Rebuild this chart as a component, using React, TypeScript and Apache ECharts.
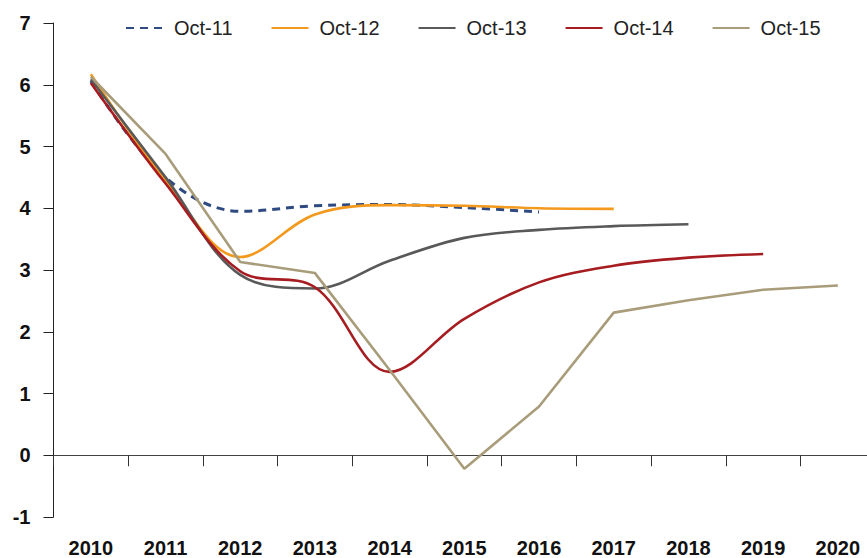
import React, { useEffect, useRef } from 'react';
import * as echarts from 'echarts';

const years = ['2010', '2011', '2012', '2013', '2014', '2015', '2016', '2017', '2018', '2019', '2020'];
const yTicks = { min: -1, max: 7, interval: 1 };

const oct11 = [6.06, 4.5, 3.95, 4.04, 4.06, 4.01, 3.94];
const oct12 = [6.17, 4.45, 3.21, 3.9, 4.05, 4.04, 4.0, 3.99];
const oct13 = [6.09, 4.5, 2.92, 2.7, 3.15, 3.52, 3.65, 3.71, 3.74];
const oct14 = [6.03, 4.4, 2.98, 2.72, 1.35, 2.21, 2.8, 3.07, 3.2, 3.26];
const oct15 = [6.13, 4.88, 3.13, 2.95, 1.38, -0.22, 0.79, 2.31, 2.51, 2.68, 2.75];

const seriesNames = ['Oct-11', 'Oct-12', 'Oct-13', 'Oct-14', 'Oct-15'];
const seriesColors = ['#2E4A80', '#F39A1E', '#595959', '#A61C20', '#A89C7A'];

export default function App() {
  const ref = useRef<HTMLDivElement>(null);
  useEffect(() => {
    const chart = echarts.init(ref.current as HTMLDivElement, null, { renderer: 'svg' });
    const datas = [oct11, oct12, oct13, oct14, oct15];
    const smoothVal = 0.35;
    chart.setOption({
      animation: false,
      backgroundColor: '#ffffff',
      textStyle: { fontFamily: '"Liberation Sans", Arial, sans-serif' },
      grid: { left: 53.5, right: 4.8, top: 23, bottom: 41, containLabel: false },
      legend: {
        data: seriesNames,
        left: 120,
        top: 13,
        itemWidth: 37,
        itemHeight: 14,
        itemGap: 38,
        itemStyle: { opacity: 0 },
        textStyle: { fontSize: 20, color: '#222', padding: [0, 0, 0, 6] },
      },
      xAxis: [
        {
          type: 'category',
          data: years,
          boundaryGap: true,
          position: 'bottom',
          axisLine: { show: true, onZero: true, lineStyle: { color: '#444', width: 1 } },
          axisTick: { show: true, length: 11, lineStyle: { color: '#333', width: 1 } },
          axisLabel: { show: false },
          splitLine: { show: false },
        },
        {
          type: 'category',
          data: years,
          boundaryGap: true,
          position: 'bottom',
          axisLine: { show: false, onZero: false },
          axisTick: { show: false },
          axisLabel: { show: true, fontSize: 20, fontWeight: 'bold', color: '#111', margin: 21 },
          splitLine: { show: false },
        },
      ],
      yAxis: {
        type: 'value',
        min: yTicks.min,
        max: yTicks.max,
        interval: yTicks.interval,
        axisLine: { show: true, onZero: false, lineStyle: { color: '#222', width: 1 } },
        axisTick: { show: true, length: 10, lineStyle: { color: '#222', width: 1 } },
        axisLabel: { fontSize: 20, fontWeight: 'bold', color: '#111', margin: 23 },
        splitLine: { show: false },
      },
      series: datas.map((d, i) => ({
        name: seriesNames[i],
        type: 'line',
        xAxisIndex: 0,
        data: d,
        symbol: 'none',
        smooth: i === 4 ? false : smoothVal,
        lineStyle: {
          color: seriesColors[i],
          width: i === 0 ? 3 : 2.6,
          type: i === 0 ? [8, 6] : 'solid',
        },
        itemStyle: { color: seriesColors[i] },
      })),
    });
    return () => chart.dispose();
  }, []);
  return (
    <div
      style={{ position: 'absolute', left: 0, top: 0, width: 867, height: 558, overflow: 'hidden', background: '#fff' }}
    >
      <div ref={ref} style={{ width: 880, height: 558 }} />
    </div>
  );
}
